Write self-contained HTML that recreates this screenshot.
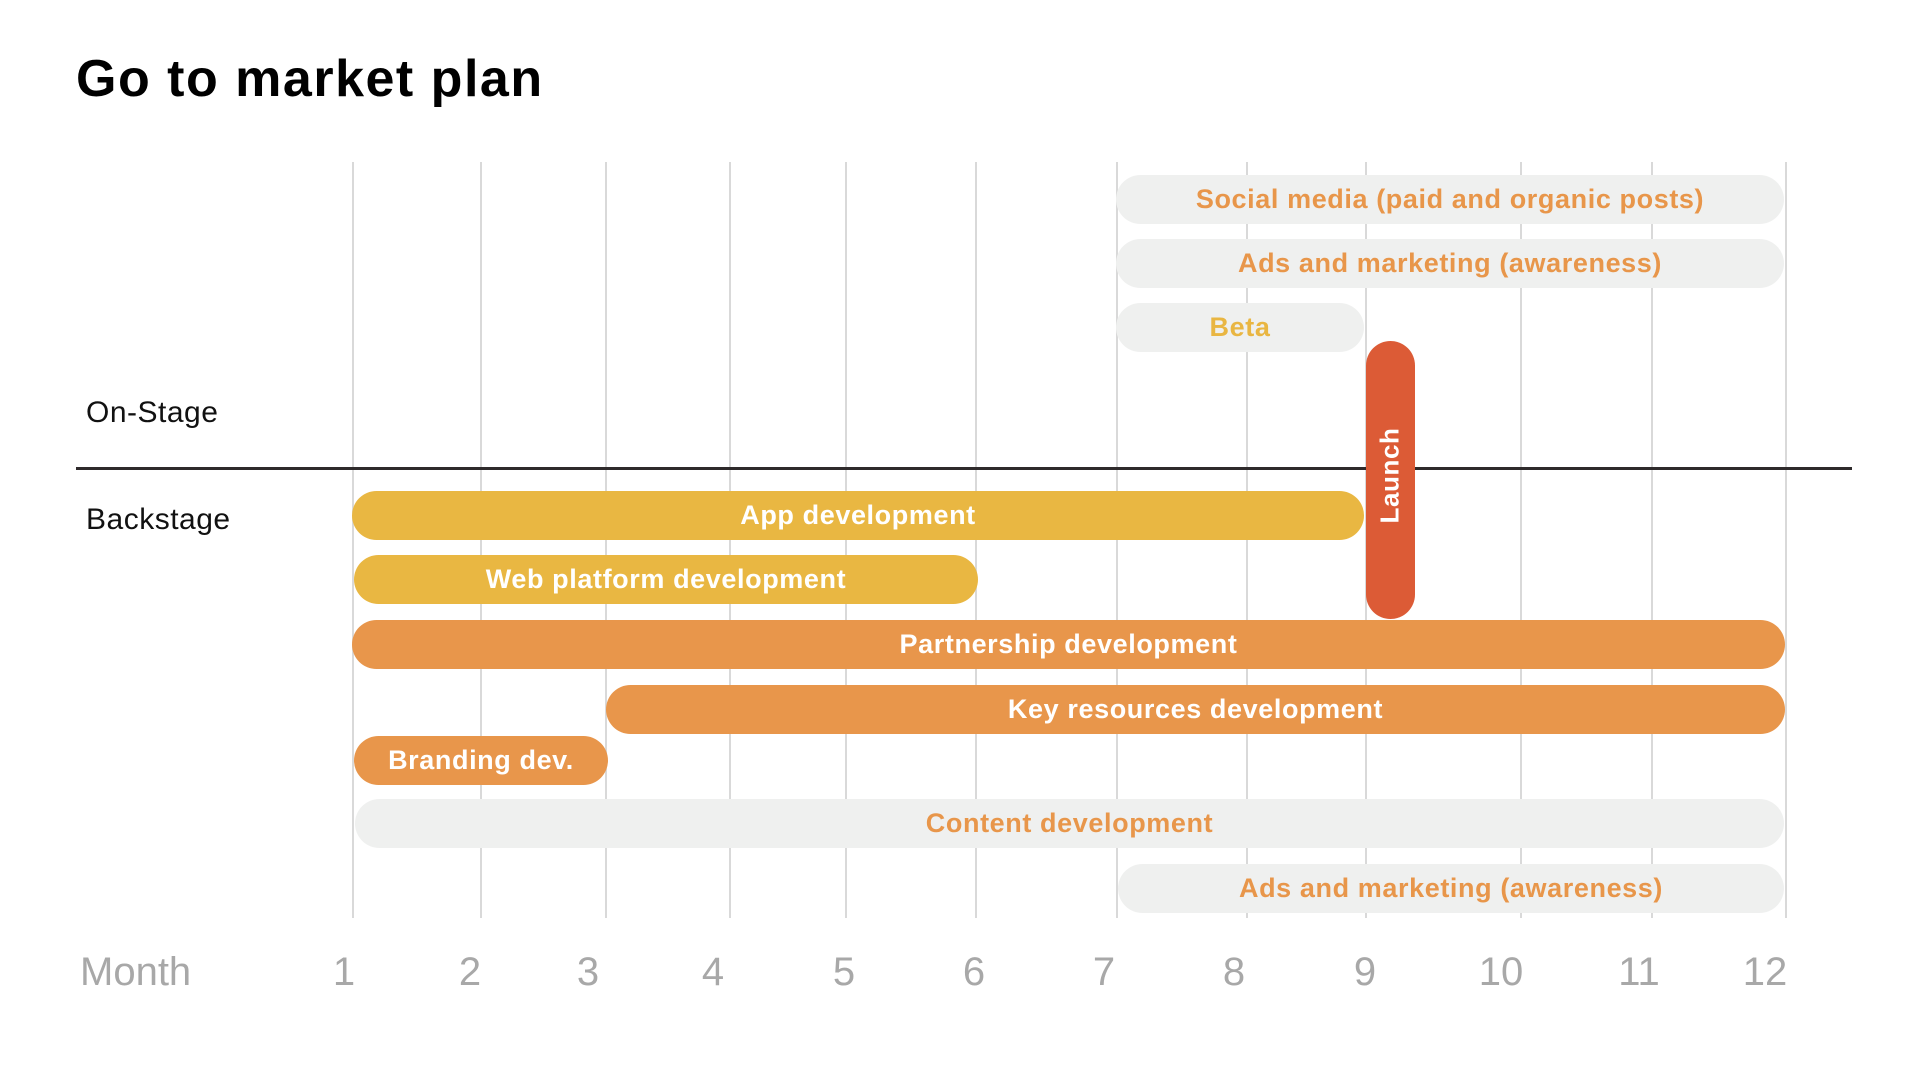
<!DOCTYPE html>
<html><head><meta charset="utf-8"><style>
*{margin:0;padding:0;box-sizing:border-box}
body{width:1920px;height:1080px;background:#fff;position:relative;overflow:hidden;font-family:"Liberation Sans",sans-serif}
.t{position:absolute;left:76px;top:49px;font-size:52px;font-weight:bold;color:#000;letter-spacing:1.5px}
.v{position:absolute;top:162px;height:756px;width:1.5px;background:#d9d9d9}
.h{position:absolute;left:76px;width:1776px;top:467px;height:3px;background:#2e2a2b}
.lab{position:absolute;font-size:30px;color:#111;left:86px;letter-spacing:0.5px}
.b{position:absolute;height:49px;border-radius:25px;display:flex;align-items:center;justify-content:center;font-weight:bold;font-size:27px;color:#fff;white-space:nowrap;letter-spacing:0.6px}
.g{background:#eff0ef;color:#e8964a}
.y{background:#e9b742}
.o{background:#e8964b}
.m{position:absolute;top:950px;font-size:40px;color:#a8a8a8;font-weight:300;transform:translateX(-50%)}
</style></head><body>
<div class="t">Go to market plan</div>
<div class="v" style="left:352px"></div><div class="v" style="left:480px"></div><div class="v" style="left:605px"></div><div class="v" style="left:729px"></div><div class="v" style="left:845px"></div><div class="v" style="left:975px"></div><div class="v" style="left:1116px"></div><div class="v" style="left:1246px"></div><div class="v" style="left:1365px"></div><div class="v" style="left:1520px"></div><div class="v" style="left:1651px"></div><div class="v" style="left:1785px"></div>
<div class="h"></div>
<div class="lab" style="top:396px">On-Stage</div>
<div class="lab" style="top:503px">Backstage</div>
<div class="b g" style="left:1116px;width:668px;top:175px">Social media (paid and organic posts)</div>
<div class="b g" style="left:1116px;width:668px;top:239px">Ads and marketing (awareness)</div>
<div class="b g" style="left:1116px;width:248px;top:303px;color:#e9b642">Beta</div>
<div class="b y" style="left:352px;width:1012px;top:491px">App development</div>
<div class="b y" style="left:354px;width:624px;top:555px">Web platform development</div>
<div class="b o" style="left:352px;width:1433px;top:620px">Partnership development</div>
<div class="b o" style="left:606px;width:1179px;top:685px">Key resources development</div>
<div class="b o" style="left:354px;width:254px;top:736px">Branding dev.</div>
<div class="b g" style="left:355px;width:1429px;top:799px">Content development</div>
<div class="b g" style="left:1118px;width:666px;top:864px">Ads and marketing (awareness)</div>
<div class="b" style="left:1366px;width:49px;top:341px;height:278px;background:#dc5b36;"><span style="transform:rotate(-90deg);display:inline-block;font-size:26px;margin-top:-10px">Launch</span></div>
<div class="m" style="left:80px;transform:none">Month</div>
<div class="m" style="left:344px">1</div><div class="m" style="left:470px">2</div><div class="m" style="left:588px">3</div><div class="m" style="left:713px">4</div><div class="m" style="left:844px">5</div><div class="m" style="left:974px">6</div><div class="m" style="left:1104px">7</div><div class="m" style="left:1234px">8</div><div class="m" style="left:1365px">9</div><div class="m" style="left:1501px">10</div><div class="m" style="left:1639px">11</div><div class="m" style="left:1765px">12</div>
</body></html>
